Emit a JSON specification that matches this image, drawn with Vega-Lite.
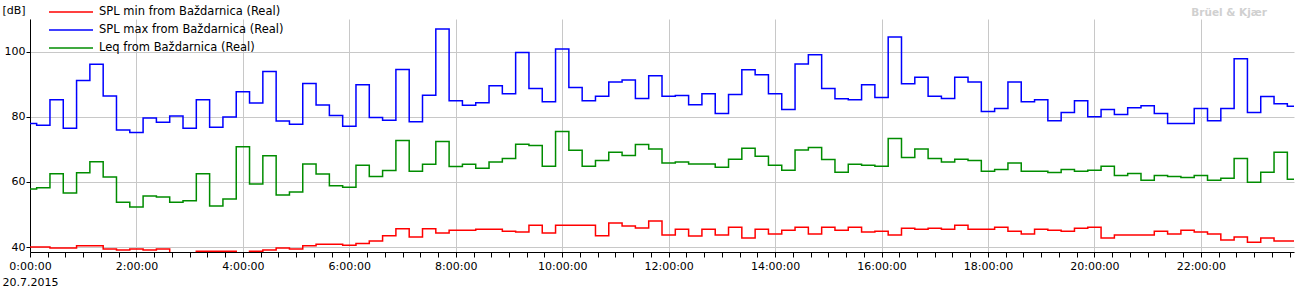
{
  "$schema": "https://vega.github.io/schema/vega-lite/v6.json",
  "autosize": "none",
  "width": 1264,
  "height": 233,
  "padding": {"left": 30, "top": 19, "right": 4, "bottom": 39},
  "background": "white",
  "title": {"text": "Brüel & Kjær", "anchor": "end", "color": "#d0d0d0", "fontWeight": "bold", "fontSize": 10.5, "font": "DejaVu Sans", "dx": -27, "dy": 19},
  "config": {
    "view": {"stroke": null},
    "font": "DejaVu Sans",
    "axis": {"labelFont": "DejaVu Sans", "labelFontSize": 11, "labelColor": "#000000", "titleFont": "DejaVu Sans", "titleColor": "#000000", "domainColor": "#000000", "tickColor": "#000000", "gridColor": "#c8c8c8", "gridOpacity": 1}
  },
  "data": {"values": [
    {"t": "2015-07-20T00:00", "min": 40.0, "max": 77.9, "leq": 57.8},
    {"t": "2015-07-20T00:15", "min": 40.0, "max": 77.4, "leq": 58.2},
    {"t": "2015-07-20T00:30", "min": 39.7, "max": 85.2, "leq": 62.5},
    {"t": "2015-07-20T00:45", "min": 39.7, "max": 76.5, "leq": 56.6},
    {"t": "2015-07-20T01:00", "min": 40.4, "max": 91.1, "leq": 62.8},
    {"t": "2015-07-20T01:15", "min": 40.4, "max": 96.1, "leq": 66.2},
    {"t": "2015-07-20T01:30", "min": 39.4, "max": 86.4, "leq": 61.5},
    {"t": "2015-07-20T01:45", "min": 39.1, "max": 75.9, "leq": 53.8},
    {"t": "2015-07-20T02:00", "min": 39.4, "max": 75.2, "leq": 52.3},
    {"t": "2015-07-20T02:15", "min": 39.1, "max": 79.6, "leq": 55.7},
    {"t": "2015-07-20T02:30", "min": 39.4, "max": 78.3, "leq": 55.4},
    {"t": "2015-07-20T02:45", "min": 38.0, "max": 80.2, "leq": 53.8},
    {"t": "2015-07-20T03:00", "min": 38.0, "max": 76.5, "leq": 54.2},
    {"t": "2015-07-20T03:15", "min": 38.7, "max": 85.2, "leq": 62.5},
    {"t": "2015-07-20T03:30", "min": 38.7, "max": 76.8, "leq": 52.6},
    {"t": "2015-07-20T03:45", "min": 38.7, "max": 79.9, "leq": 54.8},
    {"t": "2015-07-20T04:00", "min": 38.0, "max": 87.7, "leq": 70.8},
    {"t": "2015-07-20T04:15", "min": 38.7, "max": 84.2, "leq": 59.4},
    {"t": "2015-07-20T04:30", "min": 39.1, "max": 93.9, "leq": 68.0},
    {"t": "2015-07-20T04:45", "min": 39.7, "max": 78.7, "leq": 56.0},
    {"t": "2015-07-20T05:00", "min": 39.4, "max": 77.7, "leq": 56.9},
    {"t": "2015-07-20T05:15", "min": 40.4, "max": 90.2, "leq": 65.5},
    {"t": "2015-07-20T05:30", "min": 40.9, "max": 83.6, "leq": 62.4},
    {"t": "2015-07-20T05:45", "min": 40.9, "max": 80.4, "leq": 58.8},
    {"t": "2015-07-20T06:00", "min": 40.6, "max": 77.1, "leq": 58.4},
    {"t": "2015-07-20T06:15", "min": 41.1, "max": 89.8, "leq": 65.1},
    {"t": "2015-07-20T06:30", "min": 41.9, "max": 79.8, "leq": 61.7},
    {"t": "2015-07-20T06:45", "min": 43.5, "max": 78.9, "leq": 63.5},
    {"t": "2015-07-20T07:00", "min": 45.6, "max": 94.5, "leq": 72.7},
    {"t": "2015-07-20T07:15", "min": 43.1, "max": 78.5, "leq": 63.3},
    {"t": "2015-07-20T07:30", "min": 45.6, "max": 86.6, "leq": 65.4},
    {"t": "2015-07-20T07:45", "min": 44.3, "max": 106.9, "leq": 72.4},
    {"t": "2015-07-20T08:00", "min": 45.2, "max": 84.9, "leq": 64.7},
    {"t": "2015-07-20T08:15", "min": 45.2, "max": 83.5, "leq": 65.4},
    {"t": "2015-07-20T08:30", "min": 45.5, "max": 84.3, "leq": 64.2},
    {"t": "2015-07-20T08:45", "min": 45.5, "max": 89.5, "leq": 66.1},
    {"t": "2015-07-20T09:00", "min": 44.9, "max": 87.1, "leq": 67.2},
    {"t": "2015-07-20T09:15", "min": 44.6, "max": 99.7, "leq": 71.6},
    {"t": "2015-07-20T09:30", "min": 46.7, "max": 88.7, "leq": 71.2},
    {"t": "2015-07-20T09:45", "min": 44.3, "max": 84.6, "leq": 64.8},
    {"t": "2015-07-20T10:00", "min": 46.7, "max": 100.8, "leq": 75.5},
    {"t": "2015-07-20T10:15", "min": 46.7, "max": 89.0, "leq": 69.7},
    {"t": "2015-07-20T10:30", "min": 46.7, "max": 84.9, "leq": 64.8},
    {"t": "2015-07-20T10:45", "min": 43.5, "max": 86.3, "leq": 66.6},
    {"t": "2015-07-20T11:00", "min": 47.4, "max": 90.7, "leq": 69.1},
    {"t": "2015-07-20T11:15", "min": 46.5, "max": 91.3, "leq": 68.1},
    {"t": "2015-07-20T11:30", "min": 45.9, "max": 85.6, "leq": 71.5},
    {"t": "2015-07-20T11:45", "min": 48.0, "max": 92.6, "leq": 70.1},
    {"t": "2015-07-20T12:00", "min": 43.7, "max": 86.3, "leq": 65.8},
    {"t": "2015-07-20T12:15", "min": 45.5, "max": 86.5, "leq": 66.1},
    {"t": "2015-07-20T12:30", "min": 43.4, "max": 83.7, "leq": 65.5},
    {"t": "2015-07-20T12:45", "min": 45.5, "max": 87.1, "leq": 65.5},
    {"t": "2015-07-20T13:00", "min": 43.7, "max": 81.0, "leq": 64.5},
    {"t": "2015-07-20T13:15", "min": 46.1, "max": 86.8, "leq": 67.0},
    {"t": "2015-07-20T13:30", "min": 42.8, "max": 94.4, "leq": 70.3},
    {"t": "2015-07-20T13:45", "min": 45.5, "max": 92.9, "leq": 67.9},
    {"t": "2015-07-20T14:00", "min": 44.0, "max": 87.1, "leq": 65.1},
    {"t": "2015-07-20T14:15", "min": 45.2, "max": 82.2, "leq": 63.6},
    {"t": "2015-07-20T14:30", "min": 46.1, "max": 96.2, "leq": 69.8},
    {"t": "2015-07-20T14:45", "min": 44.0, "max": 99.0, "leq": 70.6},
    {"t": "2015-07-20T15:00", "min": 46.1, "max": 88.7, "leq": 66.9},
    {"t": "2015-07-20T15:15", "min": 45.2, "max": 85.5, "leq": 63.0},
    {"t": "2015-07-20T15:30", "min": 46.1, "max": 85.2, "leq": 65.4},
    {"t": "2015-07-20T15:45", "min": 44.6, "max": 89.8, "leq": 65.1},
    {"t": "2015-07-20T16:00", "min": 44.9, "max": 85.9, "leq": 64.8},
    {"t": "2015-07-20T16:15", "min": 43.7, "max": 104.5, "leq": 73.3},
    {"t": "2015-07-20T16:30", "min": 45.8, "max": 90.1, "leq": 67.5},
    {"t": "2015-07-20T16:45", "min": 45.5, "max": 92.1, "leq": 70.1},
    {"t": "2015-07-20T17:00", "min": 45.8, "max": 86.3, "leq": 67.2},
    {"t": "2015-07-20T17:15", "min": 45.5, "max": 85.6, "leq": 66.1},
    {"t": "2015-07-20T17:30", "min": 46.7, "max": 92.1, "leq": 67.0},
    {"t": "2015-07-20T17:45", "min": 45.5, "max": 90.7, "leq": 66.6},
    {"t": "2015-07-20T18:00", "min": 45.5, "max": 81.6, "leq": 63.3},
    {"t": "2015-07-20T18:15", "min": 46.1, "max": 82.5, "leq": 63.8},
    {"t": "2015-07-20T18:30", "min": 44.9, "max": 90.7, "leq": 65.8},
    {"t": "2015-07-20T18:45", "min": 44.0, "max": 84.6, "leq": 63.3},
    {"t": "2015-07-20T19:00", "min": 45.5, "max": 85.2, "leq": 63.3},
    {"t": "2015-07-20T19:15", "min": 45.2, "max": 78.8, "leq": 62.9},
    {"t": "2015-07-20T19:30", "min": 44.9, "max": 81.3, "leq": 63.8},
    {"t": "2015-07-20T19:45", "min": 45.8, "max": 84.9, "leq": 63.3},
    {"t": "2015-07-20T20:00", "min": 46.1, "max": 80.0, "leq": 63.6},
    {"t": "2015-07-20T20:15", "min": 42.8, "max": 82.2, "leq": 64.8},
    {"t": "2015-07-20T20:30", "min": 43.7, "max": 80.7, "leq": 62.0},
    {"t": "2015-07-20T20:45", "min": 43.7, "max": 82.8, "leq": 62.6},
    {"t": "2015-07-20T21:00", "min": 43.7, "max": 83.4, "leq": 60.5},
    {"t": "2015-07-20T21:15", "min": 44.9, "max": 81.0, "leq": 62.0},
    {"t": "2015-07-20T21:30", "min": 44.0, "max": 77.9, "leq": 61.7},
    {"t": "2015-07-20T21:45", "min": 45.2, "max": 77.9, "leq": 61.4},
    {"t": "2015-07-20T22:00", "min": 44.6, "max": 82.5, "leq": 62.0},
    {"t": "2015-07-20T22:15", "min": 44.0, "max": 78.8, "leq": 60.5},
    {"t": "2015-07-20T22:30", "min": 42.2, "max": 82.5, "leq": 61.1},
    {"t": "2015-07-20T22:45", "min": 43.1, "max": 97.8, "leq": 67.2},
    {"t": "2015-07-20T23:00", "min": 41.5, "max": 81.3, "leq": 59.9},
    {"t": "2015-07-20T23:15", "min": 42.8, "max": 86.2, "leq": 63.0},
    {"t": "2015-07-20T23:30", "min": 41.9, "max": 84.0, "leq": 69.1},
    {"t": "2015-07-20T23:45", "min": 41.9, "max": 83.2, "leq": 60.8}
  ]},
  "transform": [{"fold": ["min", "max", "leq"], "as": ["series", "dB"]}],
  "mark": {"type": "line", "interpolate": "step", "strokeWidth": 1.5, "clip": true},
  "encoding": {
    "x": {
      "field": "t", "type": "temporal",
      "scale": {"nice": false, "domain": [{"year": 2015, "month": 7, "date": 20, "hours": 0, "minutes": 0}, {"year": 2015, "month": 7, "date": 20, "hours": 23, "minutes": 45}]},
      "axis": {
        "title": "20.7.2015", "titleFontSize": 11, "titleFontWeight": "normal", "titleAlign": "left", "titleBaseline": "middle", "titleAnchor": "start", "titleX": -28, "titleY": 30,
        "values": [
          {"year": 2015, "month": 7, "date": 20, "hours": 0, "minutes": 0}, {"year": 2015, "month": 7, "date": 20, "hours": 0, "minutes": 20}, {"year": 2015, "month": 7, "date": 20, "hours": 0, "minutes": 40},
          {"year": 2015, "month": 7, "date": 20, "hours": 1, "minutes": 0}, {"year": 2015, "month": 7, "date": 20, "hours": 1, "minutes": 20}, {"year": 2015, "month": 7, "date": 20, "hours": 1, "minutes": 40},
          {"year": 2015, "month": 7, "date": 20, "hours": 2, "minutes": 0}, {"year": 2015, "month": 7, "date": 20, "hours": 2, "minutes": 20}, {"year": 2015, "month": 7, "date": 20, "hours": 2, "minutes": 40},
          {"year": 2015, "month": 7, "date": 20, "hours": 3, "minutes": 0}, {"year": 2015, "month": 7, "date": 20, "hours": 3, "minutes": 20}, {"year": 2015, "month": 7, "date": 20, "hours": 3, "minutes": 40},
          {"year": 2015, "month": 7, "date": 20, "hours": 4, "minutes": 0}, {"year": 2015, "month": 7, "date": 20, "hours": 4, "minutes": 20}, {"year": 2015, "month": 7, "date": 20, "hours": 4, "minutes": 40},
          {"year": 2015, "month": 7, "date": 20, "hours": 5, "minutes": 0}, {"year": 2015, "month": 7, "date": 20, "hours": 5, "minutes": 20}, {"year": 2015, "month": 7, "date": 20, "hours": 5, "minutes": 40},
          {"year": 2015, "month": 7, "date": 20, "hours": 6, "minutes": 0}, {"year": 2015, "month": 7, "date": 20, "hours": 6, "minutes": 20}, {"year": 2015, "month": 7, "date": 20, "hours": 6, "minutes": 40},
          {"year": 2015, "month": 7, "date": 20, "hours": 7, "minutes": 0}, {"year": 2015, "month": 7, "date": 20, "hours": 7, "minutes": 20}, {"year": 2015, "month": 7, "date": 20, "hours": 7, "minutes": 40},
          {"year": 2015, "month": 7, "date": 20, "hours": 8, "minutes": 0}, {"year": 2015, "month": 7, "date": 20, "hours": 8, "minutes": 20}, {"year": 2015, "month": 7, "date": 20, "hours": 8, "minutes": 40},
          {"year": 2015, "month": 7, "date": 20, "hours": 9, "minutes": 0}, {"year": 2015, "month": 7, "date": 20, "hours": 9, "minutes": 20}, {"year": 2015, "month": 7, "date": 20, "hours": 9, "minutes": 40},
          {"year": 2015, "month": 7, "date": 20, "hours": 10, "minutes": 0}, {"year": 2015, "month": 7, "date": 20, "hours": 10, "minutes": 20}, {"year": 2015, "month": 7, "date": 20, "hours": 10, "minutes": 40},
          {"year": 2015, "month": 7, "date": 20, "hours": 11, "minutes": 0}, {"year": 2015, "month": 7, "date": 20, "hours": 11, "minutes": 20}, {"year": 2015, "month": 7, "date": 20, "hours": 11, "minutes": 40},
          {"year": 2015, "month": 7, "date": 20, "hours": 12, "minutes": 0}, {"year": 2015, "month": 7, "date": 20, "hours": 12, "minutes": 20}, {"year": 2015, "month": 7, "date": 20, "hours": 12, "minutes": 40},
          {"year": 2015, "month": 7, "date": 20, "hours": 13, "minutes": 0}, {"year": 2015, "month": 7, "date": 20, "hours": 13, "minutes": 20}, {"year": 2015, "month": 7, "date": 20, "hours": 13, "minutes": 40},
          {"year": 2015, "month": 7, "date": 20, "hours": 14, "minutes": 0}, {"year": 2015, "month": 7, "date": 20, "hours": 14, "minutes": 20}, {"year": 2015, "month": 7, "date": 20, "hours": 14, "minutes": 40},
          {"year": 2015, "month": 7, "date": 20, "hours": 15, "minutes": 0}, {"year": 2015, "month": 7, "date": 20, "hours": 15, "minutes": 20}, {"year": 2015, "month": 7, "date": 20, "hours": 15, "minutes": 40},
          {"year": 2015, "month": 7, "date": 20, "hours": 16, "minutes": 0}, {"year": 2015, "month": 7, "date": 20, "hours": 16, "minutes": 20}, {"year": 2015, "month": 7, "date": 20, "hours": 16, "minutes": 40},
          {"year": 2015, "month": 7, "date": 20, "hours": 17, "minutes": 0}, {"year": 2015, "month": 7, "date": 20, "hours": 17, "minutes": 20}, {"year": 2015, "month": 7, "date": 20, "hours": 17, "minutes": 40},
          {"year": 2015, "month": 7, "date": 20, "hours": 18, "minutes": 0}, {"year": 2015, "month": 7, "date": 20, "hours": 18, "minutes": 20}, {"year": 2015, "month": 7, "date": 20, "hours": 18, "minutes": 40},
          {"year": 2015, "month": 7, "date": 20, "hours": 19, "minutes": 0}, {"year": 2015, "month": 7, "date": 20, "hours": 19, "minutes": 20}, {"year": 2015, "month": 7, "date": 20, "hours": 19, "minutes": 40},
          {"year": 2015, "month": 7, "date": 20, "hours": 20, "minutes": 0}, {"year": 2015, "month": 7, "date": 20, "hours": 20, "minutes": 20}, {"year": 2015, "month": 7, "date": 20, "hours": 20, "minutes": 40},
          {"year": 2015, "month": 7, "date": 20, "hours": 21, "minutes": 0}, {"year": 2015, "month": 7, "date": 20, "hours": 21, "minutes": 20}, {"year": 2015, "month": 7, "date": 20, "hours": 21, "minutes": 40},
          {"year": 2015, "month": 7, "date": 20, "hours": 22, "minutes": 0}, {"year": 2015, "month": 7, "date": 20, "hours": 22, "minutes": 20}, {"year": 2015, "month": 7, "date": 20, "hours": 22, "minutes": 40},
          {"year": 2015, "month": 7, "date": 20, "hours": 23, "minutes": 0}, {"year": 2015, "month": 7, "date": 20, "hours": 23, "minutes": 20}, {"year": 2015, "month": 7, "date": 20, "hours": 23, "minutes": 40}
        ],
        "format": "%-H:%M:%S",
        "labelExpr": "minutes(datum.value) == 0 && hours(datum.value) % 2 == 0 ? datum.label : ''",
        "labelOverlap": false, "labelFlush": false, "labelBound": false, "labelPadding": 3,
        "tickSize": 5,
        "grid": true,
        "gridOpacity": {"condition": {"test": "minutes(datum.value) == 0 && hours(datum.value) % 2 == 0", "value": 1}, "value": 0}
      }
    },
    "y": {
      "field": "dB", "type": "quantitative",
      "scale": {"domain": [38.5, 110], "nice": false, "zero": false},
      "axis": {
        "values": [40, 60, 80, 100], "grid": true, "tickSize": 4, "labelPadding": 1,
        "title": "[dB]", "titleAngle": 0, "titleAlign": "left", "titleBaseline": "middle", "titleX": -28, "titleY": -9, "titleFontSize": 11, "titleFontWeight": "normal"
      }
    },
    "color": {
      "field": "series", "type": "nominal",
      "scale": {"domain": ["min", "max", "leq"], "range": ["#ff0000", "#0000ff", "#008c00"]},
      "legend": {
        "title": null, "orient": "none", "legendX": 18, "legendY": -16, "padding": 0,
        "symbolType": "stroke", "symbolSize": 1936, "symbolStrokeWidth": 1.5, "clipHeight": 18, "rowPadding": 0, "labelOffset": 5, "labelLimit": 0,
        "labelFont": "DejaVu Sans", "labelFontSize": 11.5, "labelColor": "#000000",
        "labelExpr": "datum.label == 'min' ? 'SPL min from Baždarnica (Real)' : datum.label == 'max' ? 'SPL max from Baždarnica (Real)' : 'Leq from Baždarnica (Real)'"
      }
    }
  }
}
